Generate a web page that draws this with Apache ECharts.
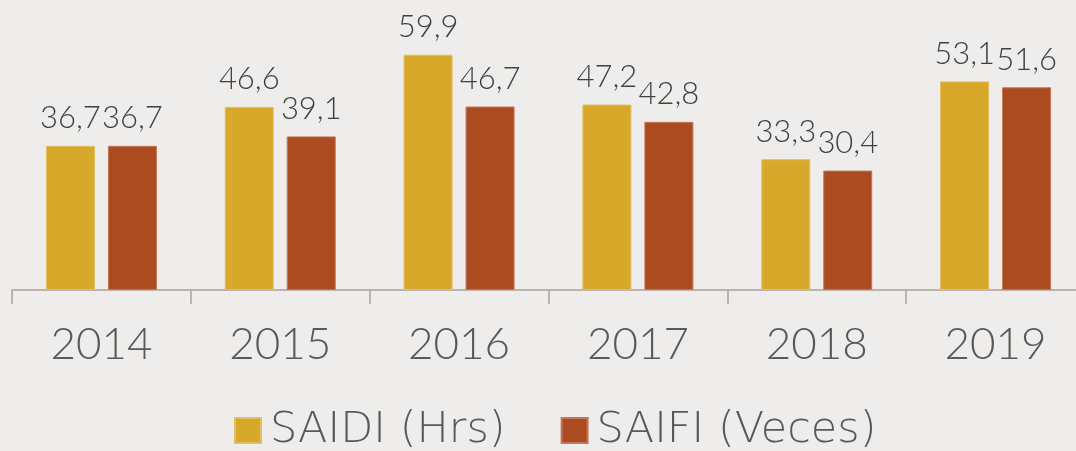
<!DOCTYPE html>
<html>
<head>
<meta charset="utf-8">
<script src="https://cdn.jsdelivr.net/npm/echarts@6/dist/echarts.min.js"></script>
<style>
  html, body { margin: 0; padding: 0; background: #eeedeb; }
  #main { width: 1076px; height: 451px; }
</style>
</head>
<body>
<div id="main"></div>
<script>
// datos
var years = ["2014", "2015", "2016", "2017", "2018", "2019"];
var saidi = [36.7, 46.6, 59.9, 47.2, 33.3, 53.1];
var saifi = [36.7, 39.1, 46.7, 42.8, 30.4, 51.6];

var fuente = "Lato";

function etiqueta(p) {
  return String(p.value.toFixed(1)).replace(".", ",");
}

var myChart = echarts.init(document.getElementById("main"));
var option = {
  backgroundColor: "#eeedeb",
  animation: false,
  grid: { left: 12, right: -9, top: 15, bottom: 161, outerBoundsMode: "none", containLabel: false },
  legend: {
    data: ["SAIDI (Hrs)", "SAIFI (Veces)"],
    left: 229,
    top: 404,
    itemWidth: 26,
    itemHeight: 25,
    itemGap: 55,
    icon: "rect",
    textStyle: { fontFamily: "DejaVu Sans", fontWeight: 200, fontSize: 43, color: "#595959", padding: [0, 0, 0, 4] }
  },
  xAxis: {
    type: "category",
    data: years,
    axisLine: { lineStyle: { color: "#bdb3aa", width: 2 } },
    axisTick: { show: true, alignWithLabel: false, length: 14, lineStyle: { color: "#bdb3aa", width: 2 } },
    axisLabel: { fontFamily: fuente, fontWeight: 300, fontSize: 44, color: "#595959", margin: 33 }
  },
  yAxis: {
    type: "value",
    min: 0,
    max: 70,
    show: false,
    splitLine: { show: false }
  },
  series: [
    {
      name: "SAIDI (Hrs)",
      type: "bar",
      data: saidi,
      barWidth: "27.4%",
      barGap: "26.5%",
      itemStyle: { color: "#d8a82a", borderColor: "#e3be62", borderWidth: 1 },
      label: { show: true, position: "top", distance: 12, formatter: etiqueta, fontFamily: fuente, fontWeight: 300, fontSize: 31, color: "#404040" }
    },
    {
      name: "SAIFI (Veces)",
      type: "bar",
      data: saifi,
      barWidth: "27.4%",
      itemStyle: { color: "#ac4a20", borderColor: "#c27758", borderWidth: 1 },
      label: { show: true, position: "top", distance: 12, formatter: etiqueta, fontFamily: fuente, fontWeight: 300, fontSize: 31, color: "#404040" }
    }
  ]
};
myChart.setOption(option);
</script>
</body>
</html>
